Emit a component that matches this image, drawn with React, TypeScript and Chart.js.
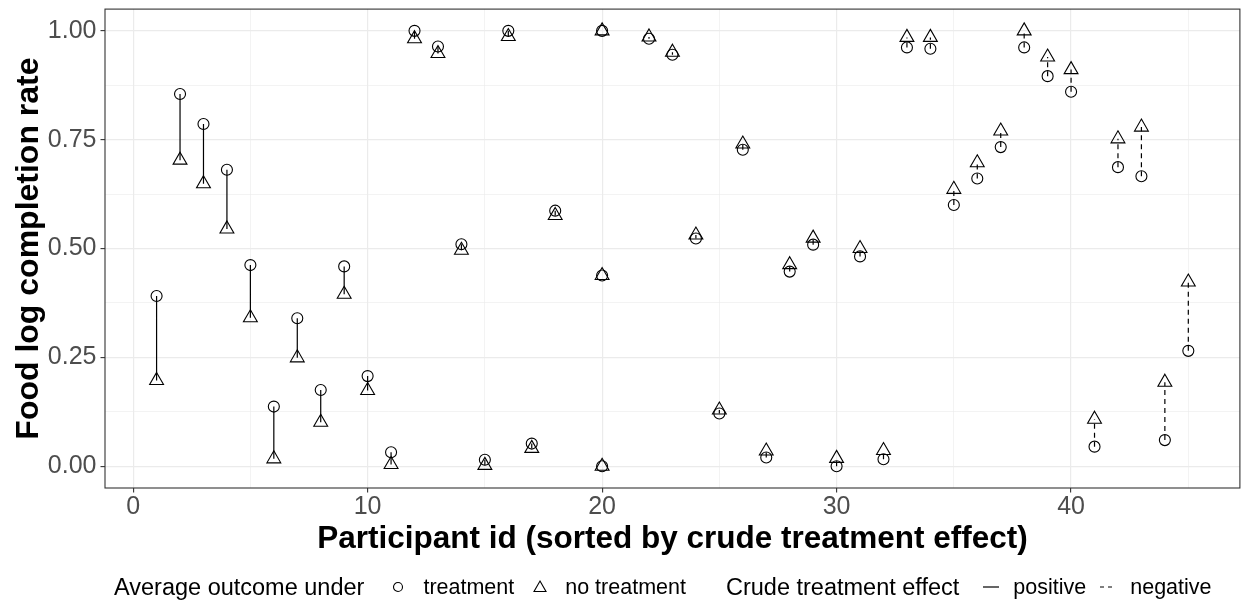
import React, { useEffect, useRef } from "react";
import { Chart, registerables } from "chart.js";

Chart.register(...registerables);

// Participant id (rank by crude treatment effect; three tied at 20)
const participantIds: number[] = [
  1, 2, 3, 4, 5, 6, 7, 8, 9, 10, 11, 12, 13, 14, 15, 16, 17, 18, 20, 20, 20,
  22, 23, 24, 25, 26, 27, 28, 29, 30, 31, 32, 33, 34, 35, 36, 37, 38, 39, 40,
  41, 42, 43, 44, 45,
];

// Average outcome under treatment (circles)
const treatmentRate: number[] = [
  0.391, 0.855, 0.786, 0.681, 0.462, 0.137, 0.34, 0.175, 0.459, 0.207, 0.032,
  1.0, 0.964, 0.51, 0.015, 1.0, 0.052, 0.587, 1.0, 0.438, 0.0,
  0.982, 0.945, 0.523, 0.121, 0.727, 0.02, 0.447, 0.509, 0.0, 0.482, 0.016,
  0.962, 0.959, 0.6, 0.661, 0.733, 0.962, 0.896, 0.86, 0.045, 0.687, 0.666,
  0.06, 0.265,
];

// Average outcome under no treatment (triangles)
const noTreatmentRate: number[] = [
  0.197, 0.703, 0.649, 0.545, 0.341, 0.017, 0.249, 0.101, 0.395, 0.174, 0.004,
  0.982, 0.948, 0.496, 0.002, 0.987, 0.041, 0.576, 1.0, 0.438, 0.0,
  0.986, 0.951, 0.531, 0.129, 0.74, 0.035, 0.463, 0.524, 0.018, 0.5, 0.036,
  0.985, 0.985, 0.636, 0.697, 0.77, 1.0, 0.94, 0.911, 0.108, 0.752, 0.779,
  0.193, 0.423,
];

const xTickLabels: number[] = [0, 10, 20, 30, 40];
const yTickLabels: number[] = [0, 0.25, 0.5, 0.75, 1.0];

const FONT = "'Liberation Sans', Arial, Helvetica, sans-serif";

const near = (a: number, b: number) => Math.abs(a - b) < 1e-6;

export default function App() {
  const ref = useRef<HTMLCanvasElement>(null);

  useEffect(() => {
    const positive: any[] = [];
    const negative: any[] = [];
    participantIds.forEach((id, i) => {
      const c = treatmentRate[i];
      const t = noTreatmentRate[i];
      const target = c >= t ? positive : negative;
      target.push({ x: id, y: c }, { x: id, y: t }, { x: id, y: null });
    });

    const borderPlugin = {
      id: "panelBorder",
      afterDraw(chart: any) {
        const { ctx, chartArea } = chart;
        ctx.save();
        ctx.strokeStyle = "#333333";
        ctx.lineWidth = 1.1;
        ctx.strokeRect(
          chartArea.left,
          chartArea.top,
          chartArea.right - chartArea.left,
          chartArea.bottom - chartArea.top
        );
        ctx.restore();
      },
    };

    const chart = new Chart(ref.current as HTMLCanvasElement, {
      type: "scatter",
      data: {
        datasets: [
          {
            label: "treatment",
            data: participantIds.map((x, i) => ({ x, y: treatmentRate[i] })),
            pointStyle: "circle",
            pointRadius: 5.5,
            pointBorderWidth: 1.1,
            pointBorderColor: "#000000",
            pointBackgroundColor: "rgba(0,0,0,0)",
            order: 1,
          },
          {
            label: "no treatment",
            data: participantIds.map((x, i) => ({ x, y: noTreatmentRate[i] })),
            pointStyle: "triangle",
            pointRadius: 8,
            pointBorderWidth: 1.1,
            pointBorderColor: "#000000",
            pointBackgroundColor: "rgba(0,0,0,0)",
            order: 2,
          },
          {
            label: "positive",
            data: positive,
            showLine: true,
            spanGaps: false,
            borderColor: "#000000",
            borderWidth: 1.2,
            pointRadius: 0,
            order: 3,
          },
          {
            label: "negative",
            data: negative,
            showLine: true,
            spanGaps: false,
            borderColor: "#000000",
            borderWidth: 1.2,
            borderDash: [5, 4],
            pointRadius: 0,
            order: 4,
          },
        ] as any,
      },
      options: {
        responsive: false,
        animation: false,
        devicePixelRatio: 1,
        layout: { padding: { left: 0, top: 9, right: 4, bottom: 49 } },
        plugins: {
          legend: { display: false },
          tooltip: { enabled: false },
        },
        scales: {
          x: {
            type: "linear",
            min: -1.2,
            max: 47.2,
            afterFit: (s: any) => {
              s.height = 72;
              s.paddingLeft = 0;
              s.paddingRight = 0;
            },
            ticks: {
              stepSize: 5,
              includeBounds: false,
              autoSkip: false,
              maxRotation: 0,
              padding: 0,
              color: "#4D4D4D",
              font: { family: FONT, size: 25 },
              callback: (v: any) =>
                xTickLabels.some((t) => near(t, Number(v))) ? String(v) : "",
            },
            grid: {
              color: "#EBEBEB",
              lineWidth: (c: any) =>
                c.tick && Math.abs(c.tick.value % 10) < 1e-6 ? 1.2 : 0.6,
              tickColor: (c: any) =>
                c.tick && Math.abs(c.tick.value % 10) < 1e-6
                  ? "#333333"
                  : "rgba(0,0,0,0)",
              tickLength: 4.5,
              tickWidth: 1.1,
              drawTicks: true,
            },
            border: { display: false },
            title: {
              display: true,
              text: "Participant id (sorted by crude treatment effect)",
              color: "#000000",
              font: { family: FONT, size: 31.5, weight: "bold" },
              padding: { top: 0, bottom: 2 },
            },
          },
          y: {
            type: "linear",
            min: -0.05,
            max: 1.05,
            afterFit: (s: any) => {
              s.width = 105;
              s.paddingTop = 0;
              s.paddingBottom = 0;
            },
            ticks: {
              stepSize: 0.125,
              includeBounds: false,
              autoSkip: false,
              padding: 4,
              color: "#4D4D4D",
              font: { family: FONT, size: 25 },
              callback: (v: any) => {
                const n = Number(v);
                return yTickLabels.some((t) => near(t, n)) ? n.toFixed(2) : "";
              },
            },
            grid: {
              color: "#EBEBEB",
              lineWidth: (c: any) =>
                c.tick && yTickLabels.some((t) => near(t, c.tick.value))
                  ? 1.2
                  : 0.6,
              tickColor: (c: any) =>
                c.tick && yTickLabels.some((t) => near(t, c.tick.value))
                  ? "#333333"
                  : "rgba(0,0,0,0)",
              tickLength: 4.5,
              tickWidth: 1.1,
              drawTicks: true,
            },
            border: { display: false },
            title: {
              display: true,
              text: "Food log completion rate",
              color: "#000000",
              font: { family: FONT, size: 32, weight: "bold" },
              padding: { top: 10, bottom: 0 },
            },
          },
        },
      } as any,
      plugins: [borderPlugin],
    });

    return () => chart.destroy();
  }, []);

  const titleStyle: React.CSSProperties = {
    fontSize: 23.5,
    color: "#000000",
    whiteSpace: "nowrap",
  };
  const labelStyle: React.CSSProperties = {
    fontSize: 21.5,
    color: "#000000",
    whiteSpace: "nowrap",
  };
  const keyStyle: React.CSSProperties = {
    width: 24,
    height: 26,
    display: "flex",
    alignItems: "center",
    justifyContent: "center",
  };

  return (
    <div
      style={{
        position: "absolute",
        left: 0,
        top: 0,
        width: 1249,
        height: 609,
        background: "#ffffff",
        fontFamily: FONT,
      }}
    >
      <canvas
        ref={ref}
        width={1249}
        height={609}
        style={{ display: "block", width: 1249, height: 609 }}
      />
      <div
        style={{
          position: "absolute",
          left: 114,
          top: 570,
          height: 34,
          display: "flex",
          alignItems: "center",
        }}
      >
        <span style={{ ...titleStyle, marginRight: 22 }}>Average outcome under</span>
        <span style={keyStyle}>
          <svg width="14" height="14">
            <circle cx="7" cy="7" r="4.5" fill="none" stroke="#000" strokeWidth="1.1" />
          </svg>
        </span>
        <span style={{ ...labelStyle, marginLeft: 13, marginRight: 14 }}>treatment</span>
        <span style={keyStyle}>
          <svg width="16" height="16">
            <polygon points="8,2 14,12.5 2,12.5" fill="none" stroke="#000" strokeWidth="1.1" />
          </svg>
        </span>
        <span style={{ ...labelStyle, marginLeft: 13, marginRight: 40 }}>no treatment</span>
        <span style={{ ...titleStyle, marginRight: 20 }}>Crude treatment effect</span>
        <span style={keyStyle}>
          <svg width="22" height="10">
            <line x1="3" y1="5" x2="19" y2="5" stroke="#000" strokeWidth="1.2" />
          </svg>
        </span>
        <span style={{ ...labelStyle, marginLeft: 10, marginRight: 10 }}>positive</span>
        <span style={keyStyle}>
          <svg width="22" height="10">
            <line x1="3" y1="5" x2="19" y2="5" stroke="#000" strokeWidth="1.2" strokeDasharray="4,4" />
          </svg>
        </span>
        <span style={{ ...labelStyle, marginLeft: 10 }}>negative</span>
      </div>
    </div>
  );
}
